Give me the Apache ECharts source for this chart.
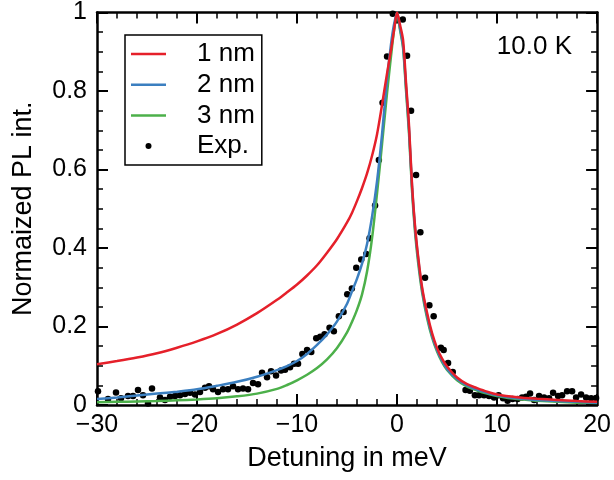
<!DOCTYPE html>
<html>
<head>
<meta charset="utf-8">
<script src="https://cdn.jsdelivr.net/npm/echarts@6/dist/echarts.min.js"></script>
<style>html,body{margin:0;padding:0;background:#fff}#c{width:614px;height:480px}</style>
</head>
<body>
<div id="c"></div>
<script>
// ---- data ----
const xRed = [-30,-28,-26,-24,-22,-20,-18,-16,-14,-12,-11,-10,-9,-8,-7,-6,-5,-4.5,-4,-3.5,-3,-2.5,-2,-1.5,-1,-0.6,-0.3,0,0.3,0.6,0.9,1.2,1.5,1.8,2.1,2.5,3,3.5,4,4.5,5,6,7,8,9,10,12,14,16,18,20];
const yRed = [0.104,0.112,0.121,0.132,0.146,0.162,0.181,0.205,0.234,0.268,0.287,0.307,0.330,0.356,0.388,0.423,0.465,0.490,0.520,0.553,0.590,0.635,0.690,0.765,0.845,0.905,0.955,1.0,0.968,0.93,0.82,0.71,0.56,0.455,0.38,0.30,0.235,0.183,0.145,0.118,0.098,0.070,0.053,0.043,0.034,0.027,0.020,0.016,0.013,0.010,0.008];

const xBlue = [-30,-28,-26,-24,-22,-20,-18,-16,-14,-12,-11,-10,-9,-8,-7,-6,-5,-4.5,-4,-3.5,-3,-2.5,-2,-1.5,-1,-0.6,-0.3,0,0.3,0.6,0.9,1.2,1.5,1.8,2.1,2.5,3,3.5,4,4.5,5,6,7,8,9,10,12,14,16,18,20];
const yBlue = [0.015,0.019,0.024,0.029,0.034,0.040,0.049,0.059,0.072,0.089,0.099,0.112,0.130,0.153,0.180,0.213,0.258,0.290,0.322,0.360,0.410,0.480,0.570,0.690,0.830,0.920,0.970,1.0,0.960,0.915,0.810,0.700,0.555,0.450,0.375,0.295,0.228,0.177,0.140,0.113,0.092,0.066,0.050,0.039,0.031,0.025,0.017,0.013,0.010,0.008,0.006];

const xGreen = [-30,-28,-26,-24,-22,-20,-18,-16,-14,-12,-11,-10,-9,-8,-7,-6,-5,-4.5,-4,-3.5,-3,-2.5,-2,-1.5,-1,-0.6,-0.3,0,0.3,0.6,0.9,1.2,1.5,1.8,2.1,2.5,3,3.5,4,4.5,5,6,7,8,9,10,12,14,16,18,20];
const yGreen = [0.007,0.008,0.009,0.010,0.012,0.014,0.017,0.022,0.029,0.041,0.051,0.063,0.077,0.094,0.116,0.145,0.185,0.212,0.243,0.282,0.340,0.425,0.540,0.665,0.795,0.890,0.955,1.0,0.955,0.910,0.800,0.690,0.545,0.440,0.365,0.288,0.222,0.172,0.136,0.109,0.089,0.063,0.047,0.037,0.029,0.023,0.015,0.011,0.008,0.006,0.005];

const xExp = [-29.9,-28.9,-28.1,-27.6,-26.9,-26.4,-25.9,-25.4,-24.9,-24.5,-23.7,-23.2,-22.7,-22.2,-21.7,-21.2,-20.7,-20.2,-19.7,-19.2,-18.8,-18.4,-17.9,-17.4,-16.9,-16.4,-15.9,-15.4,-14.9,-14.4,-13.9,-13.5,-13.0,-12.6,-12.1,-11.6,-11.2,-10.7,-10.3,-9.9,-9.47,-9.0,-8.58,-8.08,-7.68,-7.25,-6.75,-6.32,-5.82,-5.35,-4.98,-4.52,-4.08,-3.58,-3.08,-2.75,-2.2,-1.82,-1.45,-1.0,-0.43,0.57,1.0,1.4,1.9,2.33,2.8,3.23,3.66,4.38,4.66,5.1,5.57,6.85,7.28,7.78,8.2,8.7,9.2,9.7,10.15,10.6,11.05,11.55,12.05,12.5,12.9,13.3,13.7,14.2,14.7,15.2,15.6,16.1,16.5,17.0,17.5,17.9,18.4,18.9,19.4,19.9];
const yExp = [0.035,0.015,0.032,0.017,0.023,0.023,0.038,0.025,0.004,0.042,0.019,0.013,0.021,0.023,0.025,0.028,0.031,0.027,0.033,0.044,0.048,0.040,0.033,0.040,0.040,0.048,0.040,0.042,0.040,0.056,0.053,0.082,0.071,0.086,0.075,0.088,0.090,0.096,0.105,0.105,0.130,0.140,0.135,0.170,0.174,0.180,0.197,0.188,0.226,0.237,0.282,0.297,0.350,0.371,0.385,0.425,0.508,0.624,0.770,0.888,0.997,0.982,0.890,0.750,0.586,0.440,0.324,0.254,0.226,0.146,0.140,0.107,0.084,0.038,0.036,0.025,0.025,0.025,0.023,0.019,0.025,0.017,0.011,0.015,0.015,0.019,0.021,0.029,0.013,0.023,0.019,0.017,0.031,0.023,0.025,0.035,0.035,0.019,0.027,0.019,0.017,0.018];

const seriesNames = ['1 nm','2 nm','3 nm','Exp.'];
const xTicks = {min: -30, max: 20, step: 10};
const yTicks = {min: 0, max: 1, step: 0.2};
const annotation = '10.0 K';
const xTitle = 'Detuning in meV';
const yTitle = 'Normaized PL int.';
// ----------------------------------------------

const zip = (xs, ys) => xs.map((x, i) => [x, ys[i]]);
const FONT = '"Liberation Sans", Arial, sans-serif';
const fmtNum = v => String(v).replace('-', '\u2212');
const LINE_ICON = 'path://M0,0L35,0L35,2.5L0,2.5Z';
const COLORS = {red: '#e5202a', blue: '#3b7fc0', green: '#4cb04a'};

const baseAxisLine = {show: true, onZero: false, lineStyle: {color: '#000', width: 2.5}};
const tickStyle = {show: true, inside: true, length: 11, lineStyle: {color: '#000', width: 2}};
const minorStyle = {show: true, length: 6, lineStyle: {color: '#000', width: 1.5}};

const chart = echarts.init(document.getElementById('c'), null, {renderer: 'canvas'});
chart.setOption({
  animation: false,
  backgroundColor: '#fff',
  textStyle: {fontFamily: FONT},
  grid: {left: 97, right: 16, top: 7, bottom: 75, containLabel: false},
  title: {
    text: annotation, right: 42, top: 34, padding: 0,
    textStyle: {fontFamily: FONT, fontSize: 26, fontWeight: 'normal', color: '#000'}
  },
  legend: {
    data: [
      {name: seriesNames[0], icon: LINE_ICON}, {name: seriesNames[1], icon: LINE_ICON},
      {name: seriesNames[2], icon: LINE_ICON}, {name: seriesNames[3], icon: 'circle'}
    ],
    orient: 'vertical', left: 125, top: 35,
    padding: [6, 7, 6, 6],
    itemWidth: 35, itemHeight: 6, itemGap: 4.7,
    symbolKeepAspect: true,
    borderColor: '#000', borderWidth: 1.5, borderRadius: 0,
    backgroundColor: '#fff',
    textStyle: {fontFamily: FONT, fontSize: 26, color: '#000', lineHeight: 26, padding: [0, 0, 0, 26]}
  },
  xAxis: [{
    type: 'value', position: 'bottom', min: xTicks.min, max: xTicks.max, interval: xTicks.step,
    name: xTitle, nameLocation: 'middle', nameGap: 40,
    nameTextStyle: {fontFamily: FONT, fontSize: 27, color: '#000'},
    axisLine: baseAxisLine, axisTick: tickStyle,
    minorTick: Object.assign({splitNumber: 5}, minorStyle),
    axisLabel: {fontFamily: FONT, fontSize: 25, color: '#000', margin: 8, formatter: fmtNum},
    splitLine: {show: false}, minorSplitLine: {show: false}
  }, {
    type: 'value', position: 'top', min: xTicks.min, max: xTicks.max, interval: xTicks.step,
    axisLine: baseAxisLine, axisTick: tickStyle,
    minorTick: Object.assign({splitNumber: 5}, minorStyle),
    axisLabel: {show: false}, splitLine: {show: false}
  }],
  yAxis: [{
    type: 'value', position: 'left', min: yTicks.min, max: yTicks.max, interval: yTicks.step,
    name: yTitle, nameLocation: 'middle', nameGap: 60, nameRotate: 90,
    nameTextStyle: {fontFamily: FONT, fontSize: 27, color: '#000'},
    axisLine: baseAxisLine, axisTick: tickStyle,
    minorTick: Object.assign({splitNumber: 4}, minorStyle),
    axisLabel: {fontFamily: FONT, fontSize: 25, color: '#000', margin: 10, formatter: fmtNum},
    splitLine: {show: false}, minorSplitLine: {show: false}
  }, {
    type: 'value', position: 'right', min: yTicks.min, max: yTicks.max, interval: yTicks.step,
    axisLine: baseAxisLine, axisTick: tickStyle,
    minorTick: Object.assign({splitNumber: 4}, minorStyle),
    axisLabel: {show: false}, splitLine: {show: false}
  }],
  series: [
    {name: seriesNames[3], type: 'scatter', data: zip(xExp, yExp), symbol: 'circle', symbolSize: 6.5,
     itemStyle: {color: '#000', opacity: 1}, z: 1},
    {name: seriesNames[2], type: 'line', data: zip(xGreen, yGreen), symbol: 'none', smooth: 0.3,
     lineStyle: {color: COLORS.green, width: 2.5}, itemStyle: {color: COLORS.green}, z: 2},
    {name: seriesNames[1], type: 'line', data: zip(xBlue, yBlue), symbol: 'none', smooth: 0.3,
     lineStyle: {color: COLORS.blue, width: 2.5}, itemStyle: {color: COLORS.blue}, z: 3},
    {name: seriesNames[0], type: 'line', data: zip(xRed, yRed), symbol: 'none', smooth: 0.3,
     lineStyle: {color: COLORS.red, width: 2.5}, itemStyle: {color: COLORS.red}, z: 4}
  ]
});
</script>
</body>
</html>
